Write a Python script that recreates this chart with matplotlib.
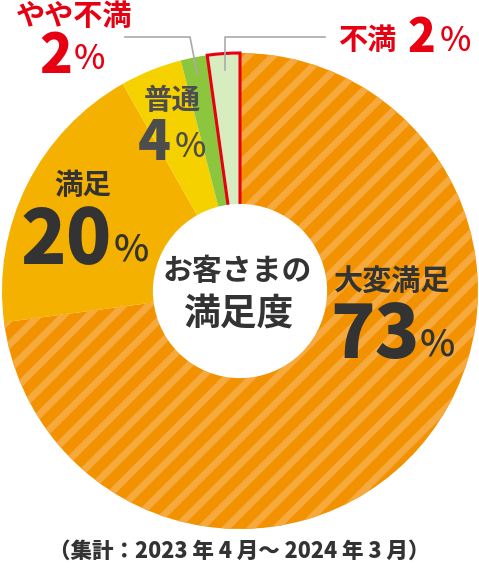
import numpy as np
import matplotlib
matplotlib.use('Agg')
import matplotlib.pyplot as plt
from matplotlib.patches import Circle

labels = ['大変満足', '満足', '普通', 'やや不満', '不満']
pct_labels = ['73', '20', '4', '2', '2']
shares = [72.9, 18.9, 4.2, 1.8, 2.2]
colors = ['#F39200', '#F5B100', '#F5D100', '#8CC63F', '#D8EDBF']
center_title = ['お客さまの', '満足度']
note = '（集計：2023 年 4 月〜 2024 年 3 月）'

JP = 'Noto Sans CJK JP'
DARK = '#333333'
RED = '#E60012'

W, H = 479, 570
CX, CY, R = 240, 291, 238


def px(x, y):
    # pixel position (from top-left) -> data coords
    return (x - CX) / R, (CY - y) / R


fig = plt.figure(figsize=(W / 100, H / 100), dpi=100)
ax = fig.add_axes([0, 0, 1, 1])

wedges, _ = ax.pie(shares, colors=colors, startangle=90, counterclock=False,
                   radius=1, wedgeprops=dict(linewidth=0))
ax.set_aspect('auto')
ax.set_xlim(-CX / R, (W - CX) / R)
ax.set_ylim((CY - H) / R, CY / R)
ax.axis('off')

# red outline on the smallest slice
wedges[4].set_edgecolor(RED)
wedges[4].set_linewidth(2.2)
wedges[4].set_zorder(3)

# light diagonal stripes on the big slice
period = 25 / R
offs = 123 / R
xs = np.array([-2.0, 2.0])
for k in range(-40, 40):
    c = offs + k * period
    ln, = ax.plot(xs, xs - c, color='#F6AA3E', lw=5, solid_capstyle='butt', zorder=2)
    ln.set_clip_path(wedges[0])

ax.add_patch(Circle((0, 0), 0.366, facecolor='white', edgecolor='none', zorder=4))

# leader lines for the two small slices
ly = px(0, 37)[1]
for i, side in [(3, -1), (4, 1)]:
    w = wedges[i]
    mid = np.deg2rad((w.theta1 + w.theta2) / 2)
    x0, y0 = 0.93 * np.cos(mid), 0.93 * np.sin(mid)
    if side < 0:
        xe = px(125, 0)[0]
        ax.plot([x0, x0 - 0.03, xe], [y0, ly, ly], color='#AAAAAA', lw=1.2, zorder=5)
    else:
        xe = px(325, 0)[0]
        ax.plot([x0, x0, xe], [y0, ly, ly], color='#AAAAAA', lw=1.2, zorder=5)


def put(x, y, s, size, color=DARK, weight='bold', family=JP):
    ax.text(*px(x, y), s, fontsize=size, color=color, fontweight=weight,
            family=family, ha='center', va='center', zorder=6)


NW = 'black'

# 大変満足
put(392, 281, labels[0], 21)
put(375, 336, pct_labels[0], 53, weight=NW)
put(437, 344, '%', 27, weight='medium')
# 満足
put(66, 242, pct_labels[1], 54, weight=NW)
put(83, 186, labels[1], 20.5)
put(131, 249, '%', 27, weight='medium')
# 普通
put(172, 101, labels[2], 20.5, color='#4D4D4D')
put(154, 144, pct_labels[2], 39, color='#4D4D4D', weight=NW)
put(190, 147, '%', 24, color='#4D4D4D', weight='medium')
# やや不満
put(74, 16, labels[3], 21, color=RED)
put(56, 57, pct_labels[3], 39, color=RED, weight=NW)
put(89, 59, '%', 24, color=RED, weight='medium')
# 不満
put(367, 40, labels[4], 21, color=RED)
put(421, 38, pct_labels[4], 33, color=RED, weight=NW)
put(455, 41, '%', 24, color=RED, weight='medium')

# center
put(237, 271, center_title[0], 21.5)
put(238, 314, center_title[1], 26.5)

put(239, 551, note, 15.5, weight='heavy')

plt.savefig('out.png', dpi=100)
